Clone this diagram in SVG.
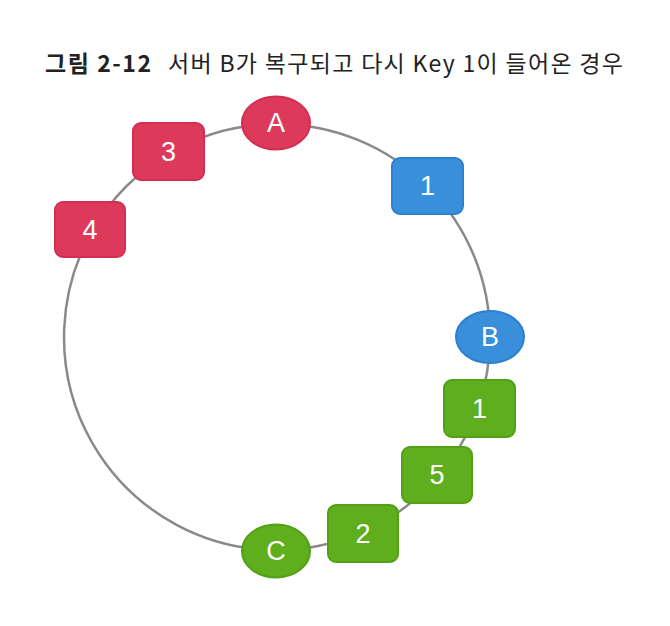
<svg xmlns="http://www.w3.org/2000/svg" width="670" height="626" viewBox="0 0 670 626">
<style>
.title{font-family:"Noto Sans CJK KR","Noto Sans",sans-serif;font-size:23px;fill:#222}
.b{font-weight:700}
.r{font-weight:400}
.ring{fill:none;stroke:#8a8a8a;stroke-width:2.5}
.red{fill:#dd3a5b;stroke:#d42d52;stroke-width:2}
.blue{fill:#3a8fda;stroke:#2b80d0;stroke-width:2}
.green{fill:#5fae1d;stroke:#53a015;stroke-width:2}
.lbl{font-family:"Liberation Sans","DejaVu Sans",sans-serif;font-size:27px;fill:#fff;text-anchor:middle;dominant-baseline:central}
</style>
<rect width="670" height="626" fill="#fff"/>
<text class="title b" x="45" y="72" textLength="106" lengthAdjust="spacing">그림 2-12</text>
<text class="title r" x="168" y="72" textLength="455" lengthAdjust="spacing">서버 B가 복구되고 다시 Key 1이 들어온 경우</text>
<g id="connectors">
<path class="ring" d="M275.9 124 A213 213 0 0 1 427.4 186.1"/>
<path class="ring" d="M427.4 186.1 A213 213 0 0 1 490 337"/>
<path class="ring" d="M490 337 A213 213 0 0 1 477.9 407.8"/>
<path class="ring" d="M477.9 407.8 A213 213 0 0 1 438.2 476.2"/>
<path class="ring" d="M438.2 476.2 A213 213 0 0 1 362.3 532.2"/>
<path class="ring" d="M362.3 532.2 A213 213 0 0 1 275.9 550"/>
<path class="ring" d="M275.9 550 A213 213 0 0 1 92.4 230.8"/>
<path class="ring" d="M92.4 230.8 A213 213 0 0 1 169.5 153.1"/>
<path class="ring" d="M169.5 153.1 A213 213 0 0 1 275.9 124"/>
</g>
<g id="server-A"><ellipse class="red" cx="276" cy="123" rx="34" ry="26.5"/><text class="lbl" x="276" y="123">A</text></g>
<g id="key-3"><rect class="red" x="133" y="123" width="71" height="57" rx="8"/><text class="lbl" x="168.5" y="151.5">3</text></g>
<g id="key-4"><rect class="red" x="55" y="202" width="70" height="55" rx="8"/><text class="lbl" x="90" y="229.5">4</text></g>
<g id="key-1-blue"><rect class="blue" x="392" y="158" width="71" height="56" rx="8"/><text class="lbl" x="427.5" y="186">1</text></g>
<g id="server-B"><ellipse class="blue" cx="490" cy="337" rx="34" ry="26"/><text class="lbl" x="490" y="337">B</text></g>
<g id="key-1-green"><rect class="green" x="444" y="380" width="71" height="57" rx="8"/><text class="lbl" x="479.5" y="408.5">1</text></g>
<g id="key-5"><rect class="green" x="402" y="447" width="70" height="56" rx="8"/><text class="lbl" x="437" y="475">5</text></g>
<g id="key-2"><rect class="green" x="328" y="505" width="70" height="57" rx="8"/><text class="lbl" x="363" y="533.5">2</text></g>
<g id="server-C"><ellipse class="green" cx="276" cy="551" rx="34" ry="26.5"/><text class="lbl" x="276" y="551">C</text></g>
</svg>
